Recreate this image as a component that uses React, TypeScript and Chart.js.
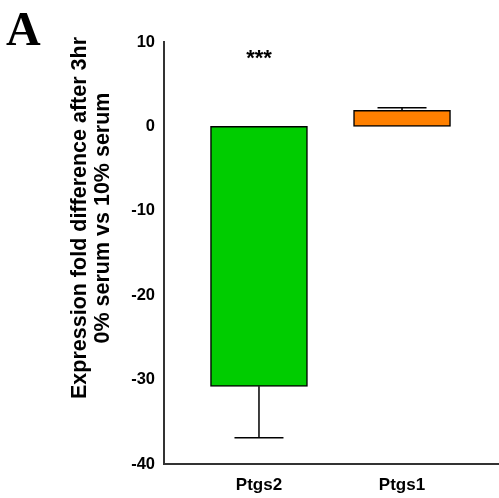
import React, { useEffect, useRef } from "react";
import { Chart, registerables } from "chart.js";

Chart.register(...registerables);

const categories = ["Ptgs2", "Ptgs1"];
const means = [-30.8, 1.9];
const errors = [6.1, 0.3];
const barColors = ["#00CC00", "#FF8000"];
const yTicks = [10, 0, -10, -20, -30, -40];
const significance = ["***", ""];
const yTitle = ["Expression fold difference after 3hr", "0% serum vs 10% serum"];
const panelLabel = "A";

const overlayPlugin = {
  id: "overlay",
  afterDatasetsDraw(chart: any) {
    const ctx = chart.ctx;
    const xs = chart.scales.x;
    const ys = chart.scales.y;
    ctx.save();
    // error bars
    ctx.strokeStyle = "#000";
    ctx.lineWidth = 1.5;
    means.forEach((m, i) => {
      const x = xs.getPixelForValue(i + 1);
      const y0 = ys.getPixelForValue(m);
      const end = m < 0 ? m - errors[i] : m + errors[i];
      const y1 = ys.getPixelForValue(end);
      ctx.beginPath();
      ctx.moveTo(x, y0);
      ctx.lineTo(x, y1);
      ctx.moveTo(x - 24.5, y1);
      ctx.lineTo(x + 24.5, y1);
      ctx.stroke();
    });
    // significance marks
    ctx.fillStyle = "#000";
    ctx.font = "bold 22px 'Liberation Sans', Arial, sans-serif";
    ctx.textAlign = "center";
    ctx.textBaseline = "middle";
    significance.forEach((s, i) => {
      if (!s) return;
      ctx.fillText(s, xs.getPixelForValue(i + 1), ys.getPixelForValue(8) + 0);
    });
    // y title
    ctx.font = "bold 21.5px 'Liberation Sans', Arial, sans-serif";
    ctx.save();
    ctx.translate(80, 218);
    ctx.rotate(-Math.PI / 2);
    ctx.fillText(yTitle[0], 0, 0);
    ctx.restore();
    ctx.save();
    ctx.translate(103, 218);
    ctx.rotate(-Math.PI / 2);
    ctx.fillText(yTitle[1], 0, 0);
    ctx.restore();
    // panel label
    ctx.font = "bold 48px 'Liberation Serif', 'Times New Roman', serif";
    ctx.textAlign = "left";
    ctx.textBaseline = "alphabetic";
    ctx.fillText(panelLabel, 6, 45);
    ctx.restore();
  },
};

export default function App() {
  const ref = useRef<HTMLCanvasElement>(null);
  useEffect(() => {
    if (!ref.current) return;
    const chart = new Chart(ref.current, {
      type: "bar",
      data: {
        datasets: [
          {
            data: means.map((m, i) => ({ x: i + 1, y: m })),
            backgroundColor: barColors,
            borderColor: "#000",
            borderWidth: 1.5,
            borderSkipped: false,
            barThickness: 97,
          },
        ],
      },
      options: {
        animation: false,
        responsive: false,
        maintainAspectRatio: false,
        layout: { padding: { top: 42, right: 0, left: 0, bottom: 0 } },
        plugins: { legend: { display: false }, tooltip: { enabled: false } },
        scales: {
          x: {
            type: "linear",
            offset: false,
            min: 0.336,
            max: 2.678,
            afterBuildTicks: (s: any) => {
              s.ticks = categories.map((_, i) => ({ value: i + 1 }));
            },
            afterFit: (s: any) => {
              s.height = 34;
            },
            grid: { display: false, drawTicks: false, offset: false },
            border: { display: true, color: "#333", width: 2 },
            ticks: {
              autoSkip: false,
              maxRotation: 0,
              padding: 11,
              color: "#000",
              font: { family: "'Liberation Sans', Arial, sans-serif", weight: "bold", size: 17 },
              callback: (v: any) => categories[Math.round(v) - 1] ?? "",
            },
          },
          y: {
            min: -40,
            max: 10,
            afterBuildTicks: (s: any) => {
              s.ticks = yTicks.map((v) => ({ value: v }));
            },
            afterFit: (s: any) => {
              s.width = 164;
            },
            grid: { display: false, drawTicks: true, tickLength: 7, tickColor: "#333", tickWidth: 2 } as any,
            border: { display: true, color: "#333", width: 2 },
            ticks: {
              padding: 2,
              color: "#000",
              font: { family: "'Liberation Sans', Arial, sans-serif", weight: "bold", size: 16.5 },
            },
          },
        },
      },
      plugins: [overlayPlugin],
    } as any);
    return () => chart.destroy();
  }, []);
  return (
    <div style={{ position: "fixed", left: 0, top: 0, width: 499, height: 498, background: "#fff" }}>
      <canvas ref={ref} width={499} height={498} style={{ width: 499, height: 498 }} />
    </div>
  );
}
